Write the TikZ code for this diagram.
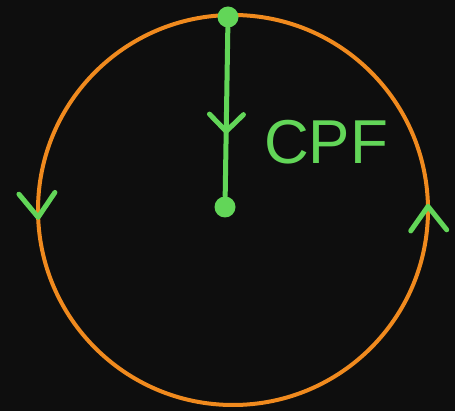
\documentclass[tikz,border=0pt]{standalone}
\usepackage{fontspec}
\setsansfont{Liberation Sans}
\usetikzlibrary{arrows.meta, decorations.markings, positioning}
\definecolor{ringorange}{HTML}{F08A1E}
\definecolor{chalkgreen}{HTML}{62D658}
\definecolor{board}{HTML}{0E0E0E}
\tikzset{
  chev/.tip={Straight Barb[length=12pt, width=18pt, line width=2.5pt, round]},
  midchev/.tip={Straight Barb[length=8.5pt, width=17pt, line width=2.5pt, round]}
}

\begin{document}
\begin{tikzpicture}[
    x=0.5pt, y=-0.5pt,
    dot/.style={circle, fill=chalkgreen, inner sep=0pt, minimum size=10.5pt},
    ring/.style={draw=ringorange, line width=2pt},
    flow/.style={draw=chalkgreen, line width=2.5pt, line cap=round}
]
\fill[board] (0,0) rectangle (455,411);
\useasboundingbox (0,0) rectangle (455,411);
% orbit with its two direction marks
\draw[ring, postaction={decorate, decoration={markings,
    mark=at position 0.492 with {\arrowreversed[chalkgreen]{chev}},
    mark=at position 0.995 with {\arrowreversed[chalkgreen]{chev}}}}]
    (233,210) circle[radius=195];
\node[dot] (topdot) at (228,17) {};
\node[dot] (hub) at (225,207) {};
\draw[flow, postaction={decorate, decoration={markings,
    mark=at position 0.63 with {\arrow{midchev}}}}] (topdot) -- (hub);
\node[text=chalkgreen, font=\sffamily\fontsize{31}{31}\selectfont] (cpf) at (326,142) {CPF};
\end{tikzpicture}
\end{document}
